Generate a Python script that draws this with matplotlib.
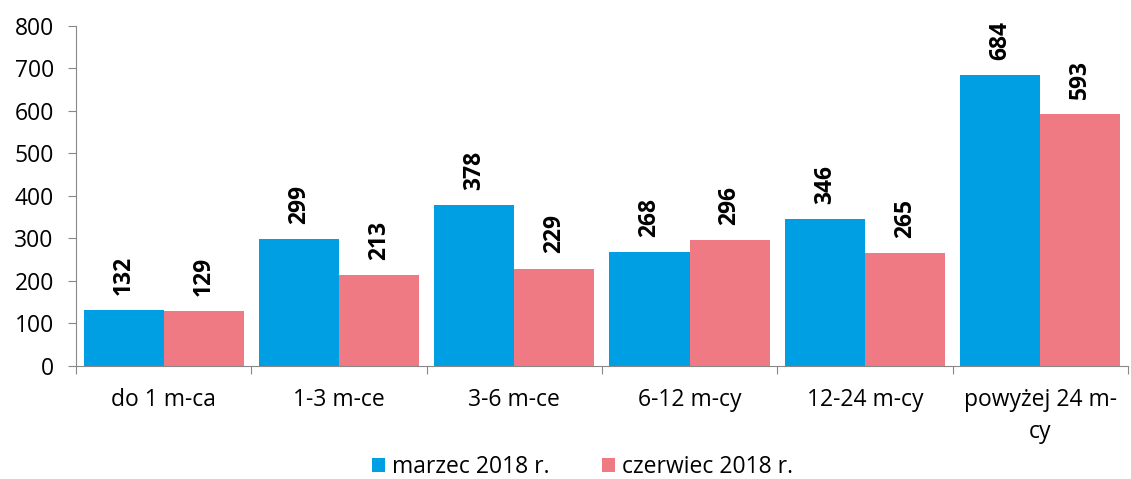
import matplotlib.pyplot as plt
import numpy as np

categories = ['do 1 m-ca', '1-3 m-ce', '3-6 m-ce', '6-12 m-cy', '12-24 m-cy', 'powyżej 24 m-\ncy']
marzec = [132, 299, 378, 268, 346, 684]
czerwiec = [129, 213, 229, 296, 265, 593]
series_names = ['marzec 2018 r.', 'czerwiec 2018 r.']

plt.rcParams['font.family'] = ['Open Sans', 'DejaVu Sans']

fig = plt.figure(figsize=(11.31, 4.79), dpi=100)
ax = fig.add_axes([0.0672, 0.236, 0.93, 0.71])

x = np.arange(len(categories))
w = 0.457
b1 = ax.bar(x - w / 2, marzec, w, color='#009FE3', label=series_names[0])
b2 = ax.bar(x + w / 2, czerwiec, w, color='#F07A84', label=series_names[1])

for bars in (b1, b2):
    for rect in bars:
        h = rect.get_height()
        ax.annotate(str(int(h)), (rect.get_x() + rect.get_width() / 2, h),
                    xytext=(0, 11), textcoords='offset points',
                    rotation=90, ha='center', va='bottom',
                    fontsize=16.5, fontweight='bold')

ax.set_xlim(-0.5, len(categories) - 0.5)
ax.set_ylim(0, 800)
ax.set_yticks(range(0, 801, 100))
ax.tick_params(axis='y', labelsize=16.5, length=6, color='#888888', pad=10)

ax.set_xticks(np.arange(len(categories) + 1) - 0.5)
ax.set_xticklabels([])
ax.set_xticks(x, minor=True)
ax.set_xticklabels(categories, minor=True, fontsize=16.5, linespacing=1.45)
ax.tick_params(axis='x', which='major', length=6, color='#888888')
ax.tick_params(axis='x', which='minor', length=0, pad=16)

for s in ['top', 'right']:
    ax.spines[s].set_visible(False)
for s in ['left', 'bottom']:
    ax.spines[s].set_color('#888888')

fig.legend(handles=[b1, b2], loc='center', bbox_to_anchor=(0.515, 0.025),
           ncol=2, frameon=False, fontsize=16.5, handlelength=0.55,
           handleheight=0.55, handletextpad=0.3, columnspacing=2.3)

fig.savefig('out.png', dpi=100)
